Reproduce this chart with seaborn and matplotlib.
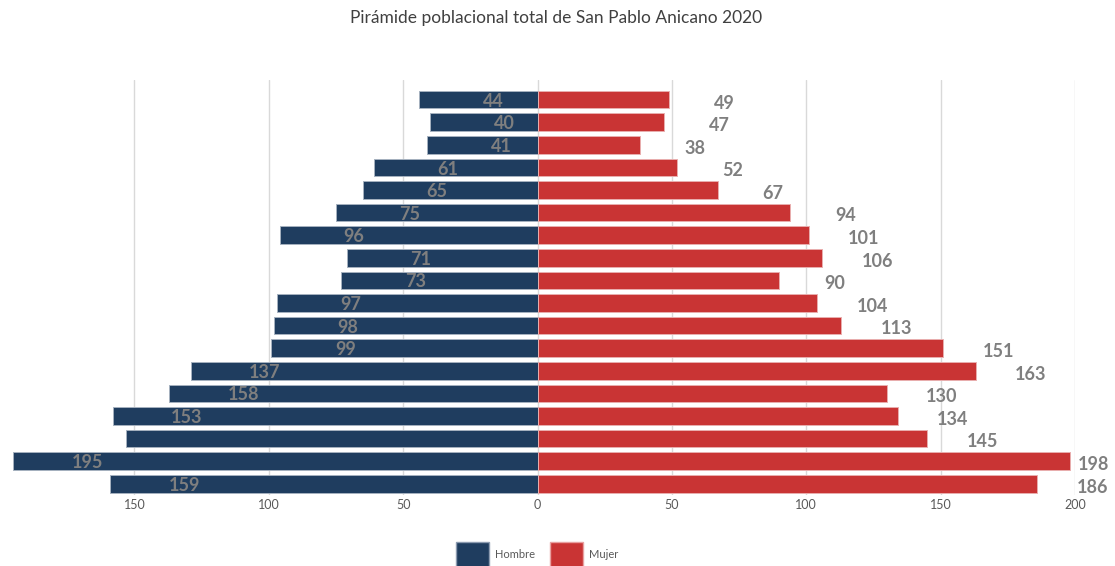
import numpy as np
import pandas as pd
import seaborn as sns
import matplotlib.pyplot as plt
from matplotlib.patches import Patch

# grupos de edad, de mayor (arriba) a menor (abajo)
grupos = ['85+', '80-84', '75-79', '70-74', '65-69', '60-64', '55-59', '50-54',
          '45-49', '40-44', '35-39', '30-34', '25-29', '20-24', '15-19',
          '10-14', '5-9', '0-4']
hombre = [44, 40, 41, 61, 65, 75, 96, 71, 73, 97, 98, 99, 129, 137, 158, 153, 195, 159]
mujer = [49, 47, 38, 52, 67, 94, 101, 106, 90, 104, 113, 151, 163, 130, 134, 145, 198, 186]
# etiquetas tal como aparecen en la imagen original
hombre_etiquetas = ['44', '40', '41', '61', '65', '75', '96', '71', '73', '97', '98', '99',
                    '137', '158', '153', '', '195', '159']
mujer_etiquetas = [str(v) for v in mujer]

color_h = '#1f3d5f'
color_m = '#c93434'

df = pd.DataFrame({
    'grupo': grupos * 2,
    'valor': [-v for v in hombre] + mujer,
    'sexo': ['Hombre'] * len(grupos) + ['Mujer'] * len(grupos),
})

sns.set_style('white')
plt.rcParams['font.family'] = ['Lato', 'DejaVu Sans']

fig = plt.figure(figsize=(11.15, 5.66), dpi=100)
ax = fig.add_axes([0, (566 - 495) / 566, 1075 / 1115, (495 - 80) / 566])

sns.barplot(data=df, x='valor', y='grupo', hue='sexo', order=grupos,
            palette={'Hombre': color_h, 'Mujer': color_m}, dodge=False,
            width=0.78, orient='h', legend=False, ax=ax, errorbar=None,
            saturation=1)

for p in ax.patches:
    fc = p.get_facecolor()
    p.set_edgecolor((fc[0] * 0.4 + 0.6, fc[1] * 0.4 + 0.6, fc[2] * 0.4 + 0.6))
    p.set_linewidth(0.7)

# etiquetas de valores
for i in range(len(grupos)):
    if hombre_etiquetas[i]:
        ax.text(-(hombre[i] - 27.5), i + 0.07, hombre_etiquetas[i], ha='center', va='center',
                fontsize=13, fontweight='bold', color='#7f7f7f')
    ax.text(min(mujer[i] + 20.5, 207), i + 0.15, mujer_etiquetas[i], ha='center', va='center',
            fontsize=13, fontweight='bold', color='#7f7f7f', clip_on=False)

ax.set_xlim(-200, 200)
ax.set_ylim(17.5, -0.87)
ticks = [-150, -100, -50, 0, 50, 100, 150, 200]
ax.set_xticks(ticks)
ax.set_xticklabels([str(abs(t)) for t in ticks], fontsize=9, color='#595959')
ax.set_yticks([])
ax.set_xlabel('')
ax.set_ylabel('')
ax.tick_params(axis='x', length=0, pad=3)
ax.grid(axis='x', color='#d9d9d9', linewidth=1)
ax.set_axisbelow(True)
for s in ax.spines.values():
    s.set_visible(False)

fig.text(556 / 1115, 1 - 18 / 566, 'Pirámide poblacional total de San Pablo Anicano 2020',
         ha='center', va='center', fontsize=12.5, color='#404040')

handles = [Patch(facecolor=color_h, edgecolor='#8c9bb0', label='Hombre'),
           Patch(facecolor=color_m, edgecolor='#e8a0a0', label='Mujer')]
fig.legend(handles=handles, loc='center', bbox_to_anchor=(537 / 1115, 1 - 555 / 566),
           ncol=2, frameon=False, fontsize=8, handlelength=3.0, handleheight=3.2,
           handletextpad=0.5, columnspacing=1.4, labelcolor='#595959')

fig.savefig('out.png', dpi=100)
